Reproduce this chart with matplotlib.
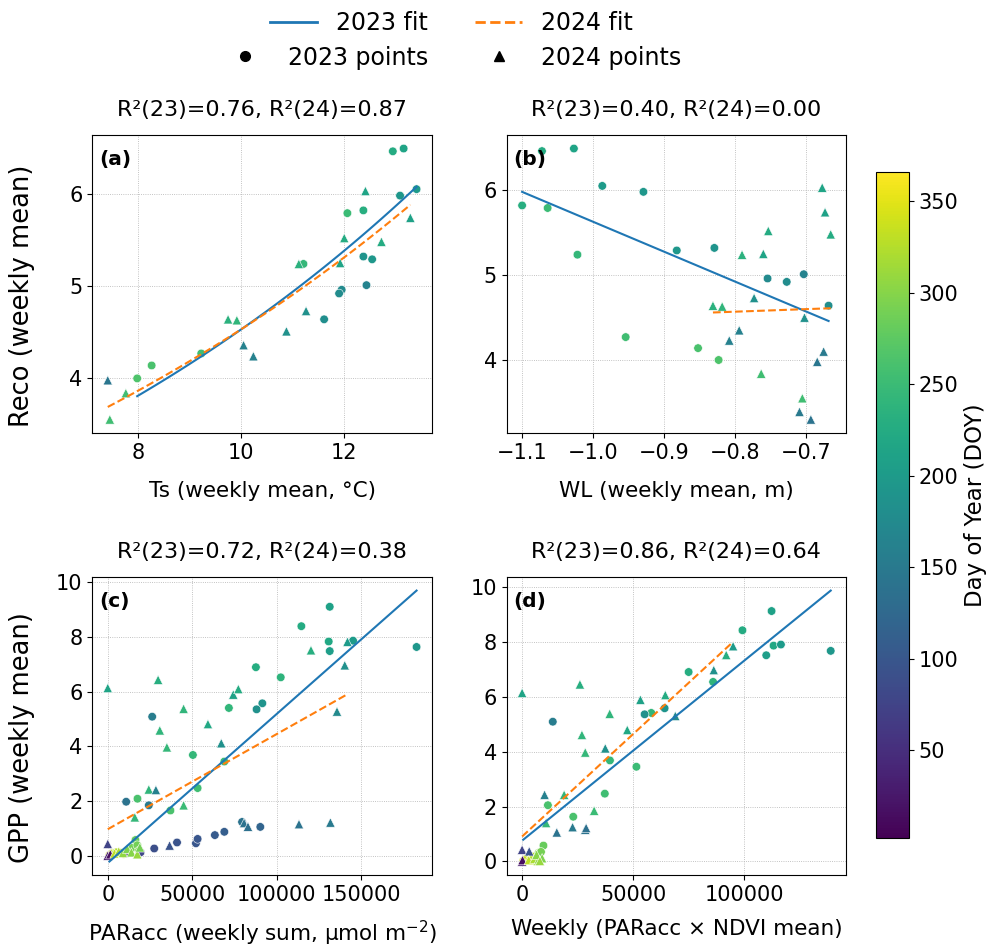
import matplotlib.pyplot as plt
import numpy as np
from matplotlib.colors import Normalize
from matplotlib.lines import Line2D
from matplotlib.ticker import MultipleLocator

# ---- panel (a): Reco vs Ts ----
ts_23 = [12.94, 13.15, 13.40, 13.08, 12.37, 12.06, 12.37, 12.54, 12.43, 11.95, 11.90, 11.61, 11.21, 9.23, 8.27, 7.99]
reco_a_23 = [6.46, 6.49, 6.05, 5.98, 5.82, 5.79, 5.32, 5.29, 5.01, 4.96, 4.92, 4.64, 5.24, 4.27, 4.14, 4.00]
doy_a_23 = [225, 215, 200, 195, 230, 250, 190, 195, 165, 175, 178, 180, 245, 255, 262, 265]
ts_24 = [7.42, 7.46, 7.77, 9.75, 9.92, 10.05, 10.24, 10.88, 11.26, 11.12, 11.92, 12.00, 12.41, 12.72, 13.28]
reco_a_24 = [3.98, 3.555, 3.84, 4.64, 4.63, 4.36, 4.24, 4.51, 4.73, 5.24, 5.25, 5.52, 6.03, 5.48, 5.74]
doy_a_24 = [145, 255, 255, 235, 240, 160, 160, 185, 185, 235, 215, 225, 215, 225, 210]

# ---- panel (b): Reco vs WL ----
wl_23 = [-1.100, -1.072, -1.027, -1.064, -0.987, -0.929, -1.022, -0.882, -0.829, -0.754, -0.727, -0.703, -0.668, -0.954, -0.852, -0.823]
reco_b_23 = [5.82, 6.46, 6.49, 5.79, 6.05, 5.98, 5.24, 5.29, 5.32, 4.96, 4.92, 5.01, 4.64, 4.27, 4.14, 4.00]
doy_b_23 = [230, 225, 215, 250, 200, 195, 245, 195, 190, 175, 178, 165, 180, 255, 262, 265]
wl_24 = [-0.831, -0.818, -0.790, -0.773, -0.760, -0.753, -0.808, -0.794, -0.763, -0.705, -0.709, -0.693, -0.702, -0.684, -0.675, -0.677, -0.673, -0.665]
reco_b_24 = [4.64, 4.63, 5.24, 4.73, 5.25, 5.52, 4.23, 4.35, 3.84, 3.55, 3.39, 3.30, 4.50, 3.98, 4.10, 6.03, 5.74, 5.48]
doy_b_24 = [235, 240, 235, 185, 215, 225, 160, 160, 255, 255, 150, 140, 185, 145, 150, 215, 210, 225]

# ---- panel (c): GPP vs PARacc ----
par_23 = [131400, 114600, 130800, 131400, 145200, 182800, 87700, 102400, 71700, 91500, 88100, 26300,
          50400, 69000, 53200, 37100, 17600, 10900, 24300, 27500, 41000, 52200, 53200, 63400, 69000,
          90300, 79500, 1000, 3000, 2500, 5000, 7500, 9500, 11000, 12500, 14500, 16400, 17500, 18500, 19400]
gpp_c_23 = [9.10, 8.39, 7.83, 7.48, 7.86, 7.63, 6.89, 6.52, 5.40, 5.57, 5.35, 5.08,
            3.68, 3.44, 2.47, 1.65, 2.08, 1.97, 1.84, 0.26, 0.48, 0.45, 0.61, 0.75, 0.87,
            1.05, 1.23, 0.02, 0.05, 0.08, 0.12, 0.10, 0.06, 0.08, 0.22, 0.28, 0.57, 0.38, 0.18, 0.12]
doy_c_23 = [210, 225, 220, 205, 200, 195, 228, 238, 242, 190, 185, 155,
            245, 250, 255, 262, 262, 140, 150, 90, 95, 100, 100, 105, 110,
            120, 140, 345, 20, 335, 325, 315, 340, 60, 300, 290, 280, 288, 300, 80]
par_24 = [0, 29800, 30800, 35000, 44900, 59300, 67200, 74300, 77300, 120300, 141900, 140300, 135700,
          24300, 28500, 44900, 16000, 80700, 83000, 113200, 131800,
          0, 0, 1500, 4000, 6500, 9000, 11500, 14000, 17500, 19000, 36600]
gpp_c_24 = [6.13, 6.43, 4.58, 3.96, 5.37, 4.81, 4.11, 5.89, 6.09, 7.51, 7.82, 6.96, 5.27,
            2.42, 2.40, 1.84, 1.40, 1.19, 1.06, 1.15, 1.21,
            0.43, 0.00, 0.05, 0.08, 0.15, 0.10, 0.25, 0.12, 0.05, 0.30, 0.37]
doy_c_24 = [215, 230, 240, 245, 240, 220, 185, 210, 225, 230, 200, 185, 175,
            240, 160, 250, 245, 140, 135, 140, 150,
            75, 30, 15, 330, 320, 305, 295, 300, 310, 290, 95]

# ---- panel (d): GPP vs PARacc x NDVI ----
pn_23 = [112200, 99100, 113100, 116400, 109800, 138800, 74900, 85900, 58100, 64100, 55100, 13800,
         39500, 51400, 37200, 23000, 11600, 9600, 500, 2100, 3500, 5100, 6000, 7400, 8500]
gpp_d_23 = [9.12, 8.42, 7.86, 7.90, 7.51, 7.67, 6.90, 6.54, 5.41, 5.58, 5.36, 5.09,
            3.68, 3.45, 2.47, 1.63, 2.05, 0.58, 0.02, 0.12, 0.05, 0.18, 0.00, 0.31, 0.35]
doy_d_23 = [210, 225, 220, 200, 205, 195, 228, 238, 242, 190, 185, 155,
            245, 250, 255, 262, 262, 282, 345, 335, 340, 325, 315, 300, 290]
pn_24 = [0, 26000, 26900, 28400, 39400, 47300, 37400, 53200, 64400, 91800, 94900, 86200, 68900,
         18900, 10100, 32400, 10800, 15600, 22700, 28400, 28800,
         0, 3200, 0, 200, 3000, 5500, 7500, 9000, 6500, 8000]
gpp_d_24 = [6.14, 6.45, 4.61, 3.97, 5.38, 4.79, 4.12, 5.89, 6.06, 7.52, 7.84, 6.97, 5.30,
            2.43, 2.43, 1.85, 1.40, 1.06, 1.25, 1.16, 1.22,
            0.43, 0.37, 0.00, 0.05, 0.05, 0.10, 0.08, 0.12, 0.25, 0.02]
doy_d_24 = [215, 230, 240, 245, 240, 220, 185, 210, 225, 230, 200, 185, 175,
            240, 160, 250, 245, 140, 150, 140, 135,
            75, 95, 30, 15, 330, 320, 305, 295, 300, 310]

# fit coefficients
fit_a_23 = (1.909, 0.0864)   # a * exp(b * x)
fit_a_24 = (2.046, 0.0795)
fit_b_23 = (-3.52, 2.108)    # slope, intercept
fit_b_24 = (0.30, 4.809)
fit_c_23 = (5.45e-5, -0.27)
fit_c_24 = (3.48e-5, 0.965)
fit_d_23 = (6.56e-5, 0.76)
fit_d_24 = (7.47e-5, 0.91)

titles = ["R\u00b2(23)=0.76, R\u00b2(24)=0.87", "R\u00b2(23)=0.40, R\u00b2(24)=0.00",
          "R\u00b2(23)=0.72, R\u00b2(24)=0.38", "R\u00b2(23)=0.86, R\u00b2(24)=0.64"]
xlabels = ["Ts (weekly mean, \u00b0C)", "WL (weekly mean, m)",
           r"PARacc (weekly sum, $\mathregular{\mu}$mol m$^{-2}$)", "Weekly (PARacc \u00d7 NDVI mean)"]
ylabels = ["Reco (weekly mean)", None, "GPP (weekly mean)", None]
tags = ["(a)", "(b)", "(c)", "(d)"]

c23 = "#1f77b4"
c24 = "#ff7f0e"
norm = Normalize(vmin=2, vmax=366)

fig = plt.figure(figsize=(9.97, 9.5), dpi=100)
positions = [[0.0926, 0.5442, 0.3407, 0.3137], [0.5082, 0.5442, 0.3405, 0.3137],
             [0.0926, 0.0789, 0.3407, 0.3137], [0.5082, 0.0789, 0.3405, 0.3137]]
axes = [fig.add_axes(p) for p in positions]

panels = [
    (ts_23, reco_a_23, doy_a_23, ts_24, reco_a_24, doy_a_24, fit_a_23, fit_a_24, "exp"),
    (wl_23, reco_b_23, doy_b_23, wl_24, reco_b_24, doy_b_24, fit_b_23, fit_b_24, "lin"),
    (par_23, gpp_c_23, doy_c_23, par_24, gpp_c_24, doy_c_24, fit_c_23, fit_c_24, "lin"),
    (pn_23, gpp_d_23, doy_d_23, pn_24, gpp_d_24, doy_d_24, fit_d_23, fit_d_24, "lin"),
]

for i, (ax, p) in enumerate(zip(axes, panels)):
    x23, y23, d23, x24, y24, d24, f23, f24, kind = p
    ax.set_axisbelow(True)
    ax.grid(True, linestyle=':', linewidth=0.6, color='#b0b0b0')
    ax.scatter(x23, y23, c=d23, cmap='viridis', norm=norm, marker='o', s=38,
               edgecolors='white', linewidths=0.4, zorder=3)
    ax.scatter(x24, y24, c=d24, cmap='viridis', norm=norm, marker='^', s=45,
               edgecolors='white', linewidths=0.4, zorder=3)
    for xs, f, col, ls in [(x23, f23, c23, '-'), (x24, f24, c24, '--')]:
        xx = np.linspace(min(xs), max(xs), 100)
        if kind == "exp":
            yy = f[0] * np.exp(f[1] * xx)
        else:
            yy = f[0] * xx + f[1]
        ax.plot(xx, yy, color=col, linestyle=ls, linewidth=1.5, zorder=4)
    ax.set_title(titles[i], fontsize=16, pad=14)
    ax.set_xlabel(xlabels[i], fontsize=15.5, labelpad=13 if i < 2 else 10)
    if ylabels[i]:
        ax.set_ylabel(ylabels[i], fontsize=18.5)
        ax.yaxis.set_label_coords(-0.17, 0.46)
    ax.tick_params(labelsize=15)
    ax.text(0.02, 0.95, tags[i], transform=ax.transAxes, fontsize=14.5,
            fontweight='bold', ha='left', va='top')

axes[0].yaxis.set_major_locator(MultipleLocator(1))

# colorbar
cax = fig.add_axes([0.8786, 0.1179, 0.0331, 0.7011])
sm = plt.cm.ScalarMappable(norm=norm, cmap='viridis')
cb = fig.colorbar(sm, cax=cax)
cb.set_ticks([50, 100, 150, 200, 250, 300, 350])
cb.ax.tick_params(labelsize=15)
cb.set_label("Day of Year (DOY)", fontsize=16.5)

# legends
line_handles = [Line2D([0], [0], color=c23, lw=2, ls='-', label='2023 fit'),
                Line2D([0], [0], color=c24, lw=2, ls='--', label='2024 fit')]
point_handles = [Line2D([0], [0], color='black', marker='o', ls='none', markersize=7, label='2023 points'),
                 Line2D([0], [0], color='black', marker='^', ls='none', markersize=7, label='2024 points')]
fig.legend(handles=line_handles, loc='upper center', bbox_to_anchor=(0.453, 1.0105),
           ncol=2, frameon=False, fontsize=17)
fig.legend(handles=point_handles, loc='upper center', bbox_to_anchor=(0.453, 0.9743),
           ncol=2, frameon=False, fontsize=17)

plt.savefig("out.png", dpi=100)
plt.close()
